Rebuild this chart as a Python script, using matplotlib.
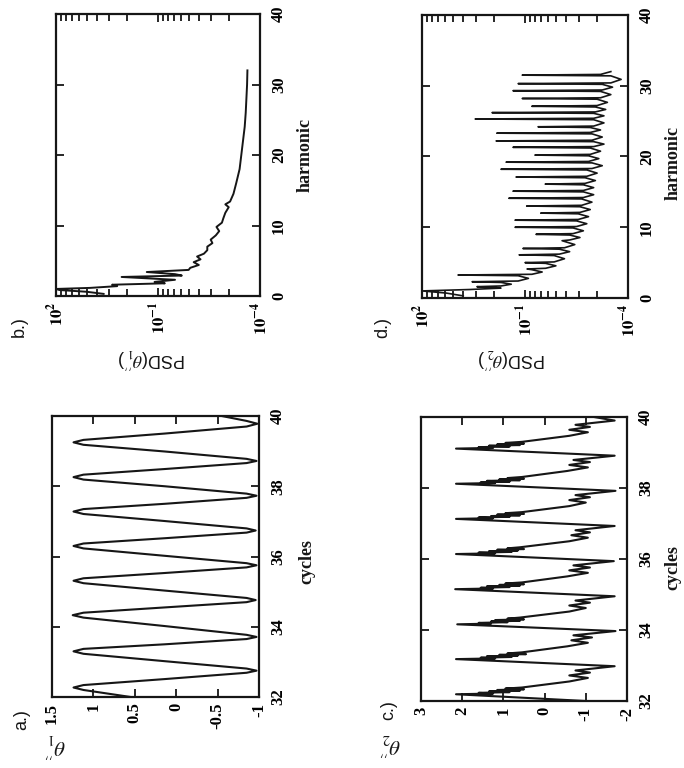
import numpy as np
import matplotlib
matplotlib.use("Agg")
import matplotlib.pyplot as plt
from matplotlib.ticker import FixedLocator, NullFormatter

plt.rcParams['font.family'] = ['Liberation Serif', 'DejaVu Serif']
plt.rcParams['mathtext.fontset'] = 'stix'

# ---------------- data ----------------
# panel a: theta1'' vs cycles
a_cycles = [32.00, 32.20, 32.27, 32.34, 32.51, 32.69, 32.75, 32.81, 33.02,
            33.23, 33.30, 33.37, 33.50, 33.65, 33.71, 33.77, 34.02,
            34.26, 34.33, 34.40, 34.55, 34.70, 34.76, 34.82, 35.03,
            35.24, 35.31, 35.38, 35.53, 35.69, 35.75, 35.81, 36.02,
            36.23, 36.30, 36.37, 36.52, 36.68, 36.74, 36.80, 37.01,
            37.21, 37.28, 37.35, 37.50, 37.67, 37.73, 37.79, 38.00,
            38.19, 38.26, 38.33, 38.49, 38.66, 38.72, 38.78, 38.99,
            39.18, 39.25, 39.32, 39.50, 39.70, 39.78, 39.86, 40.00]
a_theta = [0.55, 1.12, 1.24, 1.12, 0.14, -0.85, -0.97, -0.85, 0.14,
           1.12, 1.24, 1.12, 0.14, -0.85, -0.97, -0.85, 0.14,
           1.12, 1.25, 1.12, 0.14, -0.85, -0.96, -0.85, 0.14,
           1.12, 1.24, 1.12, 0.14, -0.85, -0.97, -0.85, 0.14,
           1.12, 1.24, 1.12, 0.14, -0.85, -0.96, -0.85, 0.14,
           1.12, 1.24, 1.12, 0.14, -0.85, -0.97, -0.85, 0.14,
           1.12, 1.24, 1.12, 0.14, -0.85, -0.97, -0.85, 0.14,
           1.12, 1.24, 1.12, 0.14, -0.85, -0.98, -0.85, -0.55]

# panel c: theta2'' vs cycles
c_cycles = [32.00,
            32.19, 32.21, 32.23, 32.25, 32.27, 32.29, 32.31, 32.33, 32.35, 32.38, 32.55, 32.65, 32.72, 32.80, 32.86, 32.98,
            33.18, 33.20, 33.22, 33.24, 33.26, 33.28, 33.30, 33.32, 33.34, 33.37, 33.54, 33.64, 33.71, 33.79, 33.85, 33.97,
            34.16, 34.18, 34.20, 34.22, 34.24, 34.26, 34.28, 34.30, 34.32, 34.35, 34.52, 34.62, 34.69, 34.77, 34.83, 34.95,
            35.15, 35.17, 35.19, 35.21, 35.23, 35.25, 35.27, 35.29, 35.31, 35.34, 35.51, 35.61, 35.68, 35.76, 35.82, 35.94,
            36.14, 36.16, 36.18, 36.20, 36.22, 36.24, 36.26, 36.28, 36.30, 36.33, 36.50, 36.60, 36.67, 36.75, 36.81, 36.93,
            37.13, 37.15, 37.17, 37.19, 37.21, 37.23, 37.25, 37.27, 37.29, 37.32, 37.49, 37.59, 37.66, 37.74, 37.80, 37.92,
            38.12, 38.14, 38.16, 38.18, 38.20, 38.22, 38.24, 38.26, 38.28, 38.31, 38.48, 38.58, 38.65, 38.73, 38.79, 38.91,
            39.11, 39.13, 39.15, 39.17, 39.19, 39.21, 39.23, 39.25, 39.27, 39.30, 39.47, 39.57, 39.64, 39.72, 39.78, 39.90,
            40.00]
c_theta = [-1.0,
           2.15, 1.25, 1.60, 0.85, 1.35, 0.60, 1.15, 0.50, 0.95, 0.55, -0.60, -1.05, -0.60, -1.10, -0.75, -1.70,
           2.15, 1.20, 1.55, 0.80, 1.40, 0.65, 1.10, 0.45, 0.90, 0.55, -0.55, -1.05, -0.65, -1.15, -0.70, -1.72,
           2.12, 1.30, 1.60, 0.90, 1.30, 0.60, 1.20, 0.50, 0.90, 0.60, -0.60, -1.00, -0.60, -1.10, -0.75, -1.70,
           2.17, 1.25, 1.55, 0.85, 1.40, 0.60, 1.10, 0.50, 0.95, 0.55, -0.55, -1.05, -0.60, -1.10, -0.70, -1.68,
           2.15, 1.20, 1.60, 0.80, 1.35, 0.65, 1.15, 0.50, 0.90, 0.60, -0.60, -1.05, -0.65, -1.10, -0.75, -1.70,
           2.15, 1.25, 1.60, 0.85, 1.30, 0.60, 1.15, 0.50, 0.95, 0.55, -0.60, -1.00, -0.60, -1.10, -0.75, -1.72,
           2.15, 1.20, 1.55, 0.85, 1.40, 0.60, 1.10, 0.50, 0.90, 0.55, -0.55, -1.05, -0.60, -1.10, -0.70, -1.70,
           2.15, 1.25, 1.60, 0.85, 1.35, 0.60, 1.15, 0.50, 0.95, 0.55, -0.60, -1.05, -0.60, -1.10, -0.75, -1.70,
           -1.2]

# panel b: PSD(theta1'') vs harmonic (log10 of PSD)
b_harm = [0.3, 0.6, 0.85, 1.0, 1.15, 1.4, 1.6, 1.8, 2.0, 2.3, 2.7, 2.9, 3.1, 3.4, 3.7,
          4.0, 4.4, 4.8, 5.2, 5.6, 6.0, 6.5, 7.0, 7.5, 8.0, 8.6, 9.2, 9.8, 10.4, 11.0,
          11.8, 12.6, 13.0, 13.4, 14.5, 16.0, 18.0, 20.0, 22.0, 24.0, 26.0, 28.0, 30.0, 32.0]
b_logpsd = [0.6, 1.1, 1.9, 2.0, 1.0, 0.2, 0.35, -1.2, -0.9, -1.5, 0.07, -1.7, -1.5, -0.67, -1.9,
            -1.95, -2.2, -2.05, -2.25, -2.15, -2.35, -2.45, -2.45, -2.6, -2.55, -2.7, -2.8, -2.72, -2.88, -2.92,
            -2.98, -3.08, -2.98, -3.12, -3.22, -3.3, -3.4, -3.45, -3.5, -3.55, -3.58, -3.6, -3.62, -3.63]

# panel d: PSD(theta2'') — low-harmonic start, then one narrow spike per harmonic
d_start_harm = [0.3, 0.7, 1.0, 1.2, 1.4]
d_start_log = [0.8, 1.3, 2.0, 0.6, -0.3]
d_peak_harm = [1.6, 2.3, 3.25, 4.1, 5.0, 6.1, 7.0, 8.1, 9.0, 10.0, 11.0, 12.0, 13.0, 14.1, 15.1, 16.1,
               17.1, 18.2, 19.2, 20.2, 21.3, 22.2, 23.3, 24.2, 25.3, 26.2, 27.1, 28.2, 29.3, 30.3, 31.5]
d_peak_log = [0.4, 0.54, 0.95, -1.06, -1.0, -0.83, -0.94, -2.08, -1.32, -0.71, -0.71, -1.46, -1.05, -0.53,
              -0.65, -1.59, -0.74, -0.30, -0.45, -1.29, -0.65, -0.16, -0.18, -1.38, 0.45, -0.04, -1.2,
              -0.92, -0.65, -0.8, -0.92]
d_trough_log = [-0.6, -1.1, -1.5, -1.9, -2.15, -2.3, -2.45, -2.6, -2.7, -2.8, -2.85, -2.9, -2.95, -3.0,
                -3.0, -3.05, -3.1, -3.25, -3.15, -3.2, -3.3, -3.25, -3.2, -3.3, -3.3, -3.35, -3.4, -3.5,
                -3.55, -3.8, -3.5]

cyc_ticks = [32, 34, 36, 38, 40]
a_ticks = [1.5, 1, 0.5, 0, -0.5, -1]
a_ticklabels = ['1.5', '1', '0.5', '0', '-0.5', '-1']
c_ticks = [3, 2, 1, 0, -1, -2]
c_ticklabels = ['3', '2', '1', '0', '-1', '-2']
harm_ticks = [0, 10, 20, 30, 40]
psd_ticks = [1e2, 1e-1, 1e-4]
psd_ticklabels = [r'$\mathbf{10^{2}}$', r'$\mathbf{10^{-1}}$', r'$\mathbf{10^{-4}}$']

# ---------------- figure ----------------
W, H = 684, 768
fig = plt.figure(figsize=(W / 100, H / 100), dpi=100)
LC = '#161616'
TFS = 12


def box(x0, y0, x1, y1):
    return [x0 / W, 1 - y1 / H, (x1 - x0) / W, (y1 - y0) / H]


def style(ax):
    for s in ax.spines.values():
        s.set_linewidth(1.6)
        s.set_color(LC)
    ax.tick_params(which='both', direction='in', top=True, bottom=True,
                   left=True, right=True, labelleft=False, labeltop=False,
                   labelright=True, labelbottom=True, color=LC, width=1.3)
    ax.tick_params(which='major', length=6)
    ax.tick_params(which='minor', length=5)
    ax.tick_params(axis='x', pad=4)
    ax.tick_params(axis='y', pad=8)
    for t in ax.get_xticklabels() + ax.get_yticklabels():
        t.set_rotation(90)
        t.set_fontsize(TFS)
        t.set_fontweight('bold')
    for t in ax.get_yticklabels():
        t.set_verticalalignment('center')


def time_panel(rect, cyc, th, xt, xtl, xlim):
    ax = fig.add_axes(rect)
    ax.plot(th, cyc, color=LC, lw=1.5)
    ax.set_xlim(*xlim)
    ax.set_ylim(32, 40)
    ax.set_xticks(xt)
    ax.set_xticklabels(xtl)
    ax.set_yticks(cyc_ticks)
    ax.set_yticklabels([str(v) for v in cyc_ticks])
    ax.yaxis.set_ticks_position('both')
    style(ax)
    return ax


def psd_panel(rect, harm, logpsd, lw):
    ax = fig.add_axes(rect)
    ax.set_xscale('log')
    ax.plot(10.0 ** np.array(logpsd), harm, color=LC, lw=lw)
    ax.set_xlim(1e2, 1e-4)
    ax.set_ylim(0, 40)
    ax.set_xticks(psd_ticks)
    ax.set_xticklabels(psd_ticklabels)
    minors = [1e-1 * k ** 3 for k in range(2, 10)] + [1e-4 * k ** 3 for k in range(2, 10)]
    ax.xaxis.set_minor_locator(FixedLocator(minors))
    ax.xaxis.set_minor_formatter(NullFormatter())
    ax.set_yticks(harm_ticks)
    ax.set_yticklabels([str(v) for v in harm_ticks])
    ax.yaxis.set_ticks_position('both')
    style(ax)
    return ax


# build the spiky path for panel d: each spike rises from the trough level
# just before it, and falls back to its own trough level midway to the next one
d_h = list(d_start_harm)
d_l = list(d_start_log)
prev_t = d_start_log[-1]
for i, (h, p, t) in enumerate(zip(d_peak_harm, d_peak_log, d_trough_log)):
    d_h += [h - 0.1, h, h + 0.1]
    d_l += [prev_t + 0.3, p, t + 0.3]
    if i < len(d_peak_harm) - 1:
        d_h.append((h + d_peak_harm[i + 1]) / 2)
        d_l.append(t)
    prev_t = t
d_h.append(32.0)
d_l.append(d_trough_log[-1])

axa = time_panel(box(52, 416, 259, 697), a_cycles, a_theta, a_ticks, a_ticklabels, (1.5, -1))
axc = time_panel(box(421, 417, 627, 701), c_cycles, c_theta, c_ticks, c_ticklabels, (3, -2))
axb = psd_panel(box(56, 14, 260, 296), b_harm, b_logpsd, 1.4)
axd = psd_panel(box(422, 15, 628, 298), d_h, d_l, 1.2)


def ftext(x, y, s, rot, size, **kw):
    fig.text(x / W, 1 - y / H, s, rotation=rot, ha='center', va='center',
             fontsize=size, color=LC, **kw)


# axis labels (rotated figure)
ftext(307, 561, 'cycles', 90, 13, fontweight='bold')
ftext(673, 568, 'cycles', 90, 13, fontweight='bold')
ftext(305, 155, 'harmonic', 90, 13, fontweight='bold')
ftext(673, 163, 'harmonic', 90, 13, fontweight='bold')
ftext(55, 745, r"$\theta_1''$", 180, 15)
ftext(390, 744, r"$\theta_2''$", 180, 15)
ftext(152, 358, r"PSD($\theta_1''$)", 180, 13, family=['Liberation Sans', 'DejaVu Sans'])
ftext(512, 358, r"PSD($\theta_2''$)", 180, 13, family=['Liberation Sans', 'DejaVu Sans'])

# panel letters
ftext(22, 720, 'a.)', 90, 13, family=['Liberation Sans', 'DejaVu Sans'])
ftext(19, 327, 'b.)', 90, 13, family=['Liberation Sans', 'DejaVu Sans'])
ftext(389, 710, 'c.)', 90, 13, family=['Liberation Sans', 'DejaVu Sans'])
ftext(383, 328, 'd.)', 90, 13, family=['Liberation Sans', 'DejaVu Sans'])

fig.savefig('out.png', dpi=100)
